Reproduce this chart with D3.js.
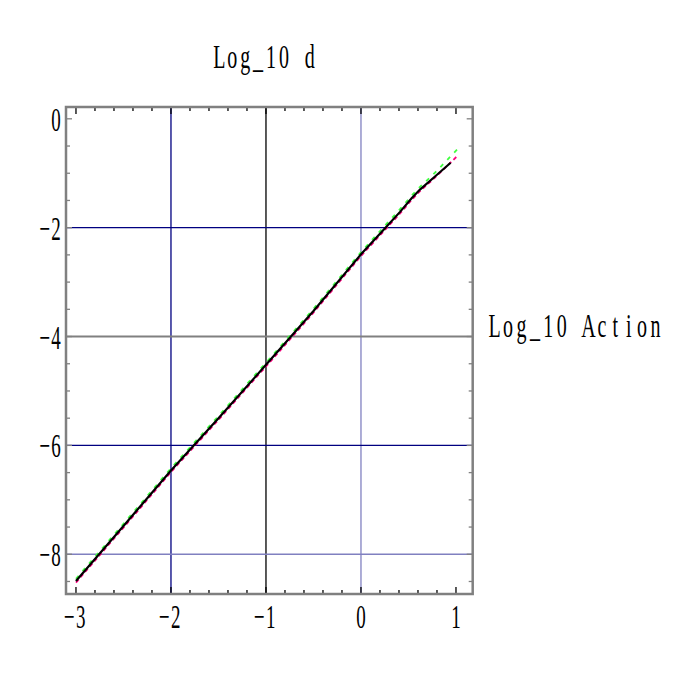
<!DOCTYPE html>
<html><head><meta charset="utf-8">
<script src="https://cdn.jsdelivr.net/npm/d3@7"></script>
<style>body{margin:0;background:#fff}svg{display:block}</style>
</head><body>
<script>
// Data
const xBlack = [-3, -2.5, -2, -1.5, -1, -0.5, 0, 0.253, 0.411, 0.533, 0.621, 0.779, 0.944];
const yBlack = [-8.49, -7.48, -6.46, -5.5, -4.52, -3.53, -2.49, -2.01, -1.71, -1.46, -1.30, -1.06, -0.807];
const xGreen = [-3, -2.5, -2, -1.5, -1, -0.5, 0, 0.253, 0.411, 0.533, 0.621, 0.779, 1.025];
const yGreen = [-8.45, -7.44, -6.42, -5.46, -4.48, -3.49, -2.45, -1.96, -1.66, -1.41, -1.25, -0.99, -0.54];
const xMag = [-3, -2.5, -2, -1.5, -1, -0.5, 0, 0.253, 0.411, 0.533, 0.621, 0.779, 1.025];
const yMag = [-8.52, -7.51, -6.49, -5.53, -4.55, -3.56, -2.52, -2.04, -1.74, -1.49, -1.33, -1.08, -0.665];
const xTicks = [-3, -2, -1, 0, 1];
const yTicks = [0, -2, -4, -6, -8];
const vGrid = [-2, -1, 0];
const vGridColor = ["#000080", "#000000", "#8080c0"];
const hGrid = [-2, -4, -6, -8];
const hGridColor = ["#000080", "#808080", "#000080", "#8080c0"];
const titleTop = "Log_10 d";
const titleRight = "Log_10 Action";

const W = 692, H = 692;
const svg = d3.select("body").append("svg").attr("width", W).attr("height", H);
const x = d3.scaleLinear().domain([-3.105, 1.176]).range([66, 472.7]);
const y = d3.scaleLinear().domain([-8.73, 0.217]).range([594, 107]);

// grid
svg.selectAll(".vg").data(vGrid).enter().append("line")
  .attr("x1", d => x(d)).attr("x2", d => x(d)).attr("y1", y.range()[1]).attr("y2", y.range()[0])
  .attr("stroke", (d, i) => vGridColor[i]).attr("stroke-width", 1.3);
svg.selectAll(".hg").data(hGrid).enter().append("line")
  .attr("y1", d => y(d)).attr("y2", d => y(d)).attr("x1", x.range()[0]).attr("x2", x.range()[1])
  .attr("stroke", (d, i) => hGridColor[i]).attr("stroke-width", (d, i) => i === 1 ? 2 : 1.3);

// minor / major ticks
const xMinor = d3.range(-3, 1.01, 0.2).map(v => +v.toFixed(2));
const yMinor = d3.range(-8.5, 0.01, 0.5);
const tk = svg.append("g").attr("stroke", "#000").attr("stroke-width", 1.3);
xMinor.forEach(v => {
  const major = Math.abs(v - Math.round(v)) < 1e-6;
  const L = major ? 7 : 4;
  tk.append("line").attr("x1", x(v)).attr("x2", x(v)).attr("y1", y.range()[0]).attr("y2", y.range()[0] - L);
  tk.append("line").attr("x1", x(v)).attr("x2", x(v)).attr("y1", y.range()[1]).attr("y2", y.range()[1] + L);
});
yMinor.forEach(v => {
  const major = Math.abs(v / 2 - Math.round(v / 2)) < 1e-6;
  const L = major ? 6 : 4;
  tk.append("line").attr("y1", y(v)).attr("y2", y(v)).attr("x1", x.range()[0]).attr("x2", x.range()[0] + L).attr("stroke", "#808080");
  tk.append("line").attr("y1", y(v)).attr("y2", y(v)).attr("x1", x.range()[1]).attr("x2", x.range()[1] - L).attr("stroke", "#808080");
});

// frame
svg.append("rect").attr("x", 66).attr("y", 107).attr("width", 472.7 - 66).attr("height", 594 - 107)
  .attr("fill", "none").attr("stroke", "#808080").attr("stroke-width", 2.5);

// lines
const line = d3.line().x(d => x(d[0])).y(d => y(d[1]));
svg.append("path").datum(xMag.map((v, i) => [v, yMag[i]])).attr("d", line)
  .attr("fill", "none").attr("stroke", "#ff0080").attr("stroke-width", 1.8).attr("stroke-dasharray", "4,3");
svg.append("path").datum(xGreen.map((v, i) => [v, yGreen[i]])).attr("d", line)
  .attr("fill", "none").attr("stroke", "#40ff40").attr("stroke-width", 1.8).attr("stroke-dasharray", "4,6");
svg.append("path").datum(xBlack.map((v, i) => [v, yBlack[i]])).attr("d", line)
  .attr("fill", "none").attr("stroke", "#000").attr("stroke-width", 2.2);

// text helper: serif glyphs placed on a monospace grid, stretched vertically
// left = left edge of the text, cell = width per character
function mtext(left, base, str, size, sy, cell) {
  const xs = Array.from(str).map((c, i) => (left + cell * (i + 0.5)).toFixed(1)).join(" ");
  svg.append("g").attr("transform", `translate(0,${base}) scale(1,${sy})`)
    .append("text").attr("x", xs).attr("y", 0).attr("text-anchor", "middle")
    .attr("font-family", "Liberation Serif, DejaVu Serif, serif")
    .attr("font-size", size).attr("fill", "#000").text(str);
}
const fmt = v => (v < 0 ? "\u2212" : "") + Math.abs(v);
const tickCell = 11.7;
xTicks.forEach(v => {
  const s = fmt(v);
  const w = tickCell * s.length;
  mtext(v < 0 ? x(v) - w / 2 - 1 : x(v) - w / 2, 628, s, 19, 1.8, tickCell);
});
yTicks.forEach(v => {
  const s = fmt(v);
  mtext(62 - tickCell * s.length, y(v) + 12, s, 19, 1.8, tickCell);
});
mtext(213, 68, titleTop, 20, 1.67, 12.9);
mtext(488, 337, titleRight, 20, 1.65, 13.4);
</script>
</body></html>
